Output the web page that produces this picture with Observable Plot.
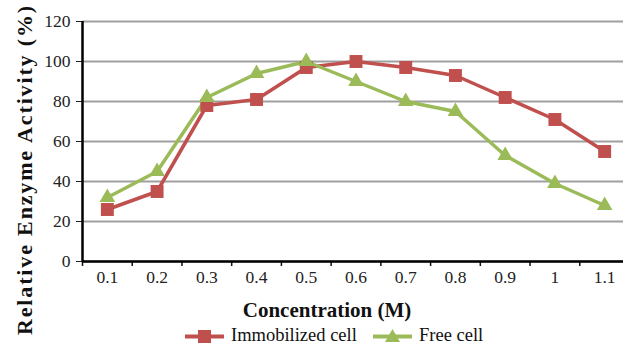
<!DOCTYPE html>
<html>
<head>
<meta charset="utf-8">
<script src="https://cdn.jsdelivr.net/npm/d3@7"></script>
<script src="https://cdn.jsdelivr.net/npm/@observablehq/plot@0.6"></script>
<style>
  body { margin: 0; background: #fff; font-family: "Liberation Serif", "Times New Roman", serif; }
  #chart { position: relative; width: 623px; height: 347px; }
  #legend { position: absolute; left: 0; top: 324px; width: 623px; height: 23px; font-size: 18.5px; color: #111; }
  .item { position: absolute; top: 1px; display: flex; align-items: center; }
  .item svg { margin-right: 7px; }
</style>
</head>
<body>
<div id="chart"><div id="legend"></div></div>
<script>
const concentrations = [0.1, 0.2, 0.3, 0.4, 0.5, 0.6, 0.7, 0.8, 0.9, 1.0, 1.1];
const xTickLabels = ["0.1", "0.2", "0.3", "0.4", "0.5", "0.6", "0.7", "0.8", "0.9", "1", "1.1"];
const categoryBounds = [0.05, 0.15, 0.25, 0.35, 0.45, 0.55, 0.65, 0.75, 0.85, 0.95, 1.05, 1.15];
const immobilized = [26, 35, 78, 81, 97, 100, 97, 93, 82, 71, 55];
const freeCell = [32, 45, 82, 94, 100, 90, 80, 75, 53, 39, 28];
const yTicks = [0, 20, 40, 60, 80, 100, 120];
const seriesNames = ["Immobilized cell", "Free cell"];
const colors = ["#C0504D", "#9BBB59"];
const yTitle = "Relative Enzyme Activity (%)";
const xTitle = "Concentration (M)";

const immoData = concentrations.map((c, i) => ({c, v: immobilized[i], s: seriesNames[0]}));
const freeData = concentrations.map((c, i) => ({c, v: freeCell[i], s: seriesNames[1]}));
const xLabelData = concentrations.map((c, i) => ({c, label: xTickLabels[i]}));

const chart = Plot.plot({
  width: 623,
  height: 347,
  marginLeft: 82,
  marginRight: 0,
  marginTop: 21,
  marginBottom: 86,
  style: {fontFamily: "Liberation Serif, Times New Roman, serif", fontSize: "17px", color: "#111", background: "#fff"},
  x: {domain: [0.05, 1.15], range: [82, 629]},
  y: {domain: [0, 120]},
  marks: [
    Plot.gridY(yTicks, {stroke: "#a0a0a0", strokeOpacity: 1, strokeWidth: 2}),
    Plot.axisY(yTicks, {tickSize: 6, tickFormat: () => "", label: null, stroke: "#222"}),
    Plot.axisX(categoryBounds, {tickSize: 5, tickFormat: () => "", label: null, stroke: "#111", strokeWidth: 1.5}),
    Plot.text(yTicks, {y: d => d, frameAnchor: "left", textAnchor: "end", dx: -12, fontSize: 17.5, fill: "#222"}),
    Plot.text(xLabelData, {x: "c", text: "label", frameAnchor: "bottom", dy: 21, fontSize: 17.5, fill: "#222"}),
    Plot.ruleY([0], {stroke: "#000", strokeWidth: 2.5}),
    Plot.ruleX([0.05], {stroke: "#000", strokeWidth: 2.5}),
    Plot.line(immoData, {x: "c", y: "v", stroke: colors[0], strokeWidth: 3.5}),
    Plot.line(freeData, {x: "c", y: "v", stroke: colors[1], strokeWidth: 3.5}),
    Plot.dot(immoData, {x: "c", y: "v", symbol: "square", r: 7.3, fill: colors[0], stroke: "none"}),
    Plot.dot(freeData, {x: "c", y: "v", symbol: "triangle", r: 5.8, fill: colors[1], stroke: "none"}),
    Plot.text([xTitle], {frameAnchor: "bottom", dx: -26, dy: 55, fontSize: 21, fontWeight: "bold", fill: "#111"}),
    Plot.text([yTitle], {frameAnchor: "left", textAnchor: "middle", rotate: -90, dx: -58, dy: 28, fontSize: 22, fontWeight: "bold", fill: "#111"})
  ]
});
d3.select(chart).selectAll("text").filter(function() { return this.textContent === yTitle; })
  .style("letter-spacing", "1.85px");
document.getElementById("chart").insertBefore(chart, document.getElementById("legend"));
chart.style.position = "absolute";
chart.style.left = "0px";
chart.style.top = "0px";

// legend
const legend = document.getElementById("legend");
const lefts = [185, 373];
seriesNames.forEach((name, i) => {
  const item = document.createElement("div");
  item.className = "item";
  item.style.left = lefts[i] + "px";
  const sym = i === 0
    ? `<rect x="13" y="4" width="13" height="13" fill="${colors[0]}"/>`
    : `<path d="M19.5,3 L27,16 L12,16 Z" fill="${colors[1]}"/>`;
  item.innerHTML = `<svg width="39" height="20"><line x1="0" y1="10.5" x2="39" y2="10.5" stroke="${colors[i]}" stroke-width="4"/>${sym}</svg><span>${name}</span>`;
  legend.appendChild(item);
});
</script>
</body>
</html>
